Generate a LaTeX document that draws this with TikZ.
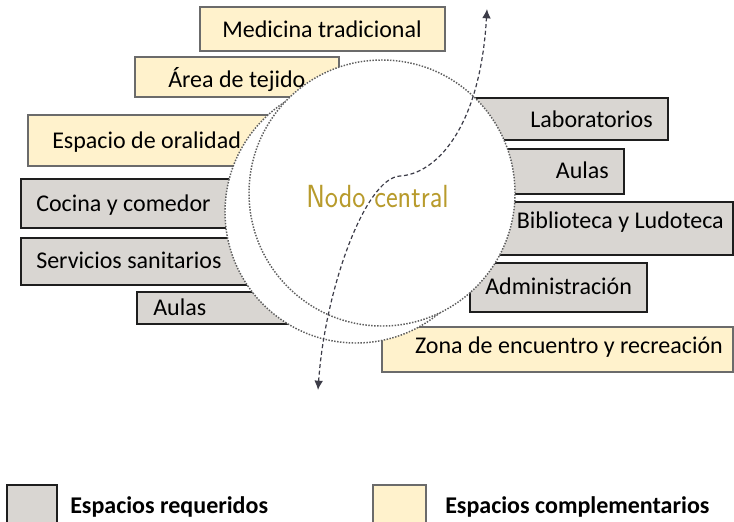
\documentclass[tikz,border=0pt]{standalone}
\usepackage{fontspec}
\setmainfont{Carlito}
\usepackage{graphicx}
\usetikzlibrary{arrows.meta,fit}
\definecolor{reqfill}{HTML}{D9D6D2}
\definecolor{reqdraw}{HTML}{1E1E1E}
\definecolor{compfill}{HTML}{FFF2CC}
\definecolor{compdraw}{HTML}{6B6B6B}
\definecolor{nodocol}{HTML}{B89B2C}
\definecolor{dotcol}{HTML}{5E5E5E}
\definecolor{flowcol}{HTML}{3C3C48}
\begin{document}
\begin{tikzpicture}[x=0.75pt,y=-0.75pt,
  req/.style={draw=reqdraw,fill=reqfill,line width=1.5pt,inner sep=0pt},
  comp/.style={draw=compdraw,fill=compfill,line width=1.5pt,inner sep=0pt},
  lbl/.style={font=\fontsize{18}{20}\selectfont,inner sep=0pt},
  leg/.style={font=\bfseries\fontsize{18}{20}\selectfont,inner sep=0pt,anchor=base west},
  circ/.style={circle,fill=white,draw=dotcol,line width=1.1pt,dash pattern=on 1.1pt off 1.1pt,inner sep=0pt},
  flow/.style={draw=flowcol,line width=0.9pt,dash pattern=on 3pt off 2pt}]
\useasboundingbox (0,0) rectangle (734,521);
\clip (0,0) rectangle (734,521);
% complementary boxes
\node[comp,fit={(200,7)(445,51)}] (bmed) {};
\node[comp,fit={(135,57)(339,97)}] (btej) {};
\node[comp,fit={(28,115)(300,166)}] (bora) {};
\node[comp,fit={(382,327)(733,372)}] (bzona) {};
% required boxes
\node[req,fit={(21,179)(300,228)}] (bcoc) {};
\node[req,fit={(21,238)(300,285)}] (bser) {};
\node[req,fit={(137,292)(300,324)}] (baul1) {};
\node[req,fit={(430,98)(668,140)}] (blab) {};
\node[req,fit={(440,149)(624,194)}] (baul2) {};
\node[req,fit={(450,202)(733,255)}] (bbib) {};
\node[req,fit={(470,263)(647,312)}] (badm) {};
% circles
\node[circ,minimum size=196.5pt] (cA) at (356,212) {};
\node[circ,minimum size=199.5pt] (cB) at (382,193) {};
% labels
\node[lbl,anchor=base] (tmed) at (322,37) {Medicina tradicional};
\node[lbl,anchor=base west] (ttej) at (168,87) {Área de tejido};
\node[lbl,anchor=base west] (tora) at (52,148) {Espacio de oralidad};
\node[lbl,anchor=base west] (tcoc) at (36,211) {Cocina y comedor};
\node[lbl,anchor=base west] (tser) at (36,268) {Servicios sanitarios};
\node[lbl,anchor=base west] (taul1) at (153,315) {Aulas};
\node[lbl,anchor=base east] (tlab) at (653,127) {Laboratorios};
\node[lbl,anchor=base east] (taul2) at (609,178) {Aulas};
\node[lbl,anchor=base east] (tbib) at (724,228) {Biblioteca y Ludoteca};
\node[lbl,anchor=base west] (tadm) at (485,294) {Administración};
\node[lbl,anchor=base east] (tzona) at (723,353) {Zona de encuentro y recreación};
% central text
\node[text=nodocol,font=\sffamily\fontsize{24}{26}\selectfont,inner sep=0pt,anchor=base] (nodo) at (377.5,207) {\scalebox{0.875}[1]{Nodo central}};
% flow arrow
\coordinate (fbot) at (318,390);
\coordinate (fmid) at (400,176);
\coordinate (ftop) at (487,9);
\draw[flow,{Latex[length=7pt,width=6.5pt]}-{Latex[length=7pt,width=6.5pt]}]
  (fbot) .. controls (325,290) and (365,178) .. (fmid)
         .. controls (435,174) and (480,130) .. (ftop);
% legend
\node[req,fit={(7,485)(57,535)}] (lreq) {};
\node[leg] (treq) at (70,513) {Espacios requeridos};
\node[comp,fit={(373,485)(426,535)}] (lcomp) {};
\node[leg] (tcomp) at (445,513) {Espacios complementarios};
\end{tikzpicture}
\end{document}
